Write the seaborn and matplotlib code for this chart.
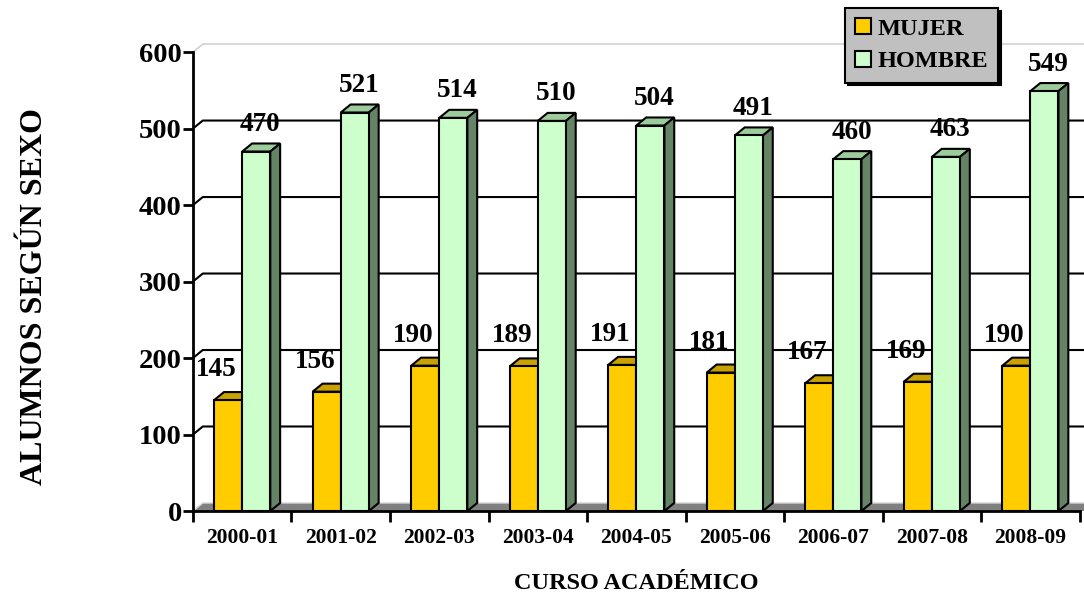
import pandas as pd
import matplotlib.pyplot as plt
from matplotlib.patches import Polygon, Patch
import seaborn as sns

cursos = ['2000-01', '2001-02', '2002-03', '2003-04', '2004-05',
          '2005-06', '2006-07', '2007-08', '2008-09']
mujer = [145, 156, 190, 189, 191, 181, 167, 169, 190]
hombre = [470, 521, 514, 510, 504, 491, 460, 463, 549]
sexos = ['MUJER', 'HOMBRE']
y_ticks = [0, 100, 200, 300, 400, 500, 600]

df = pd.DataFrame({
    'curso': cursos * 2,
    'sexo': ['MUJER'] * len(cursos) + ['HOMBRE'] * len(cursos),
    'alumnos': mujer + hombre,
})

sns.set_theme(style='white')
plt.rcParams['font.family'] = ['Liberation Serif', 'DejaVu Serif']
plt.rcParams['font.weight'] = 'bold'
for k in ['text.color', 'axes.labelcolor', 'xtick.color', 'ytick.color']:
    plt.rcParams[k] = 'black'

front = {'MUJER': '#FFCC00', 'HOMBRE': '#CCFFCC'}
top_c = {'MUJER': '#C9A100', 'HOMBRE': '#9CCB9C'}
side_c = {'MUJER': '#8C7000', 'HOMBRE': '#658465'}

fig = plt.figure(figsize=(10.84, 5.96), dpi=100)
ax = fig.add_axes([0.178, 0.1426, 0.818, 0.770])

sns.barplot(data=df, x='curso', y='alumnos', hue='sexo', hue_order=sexos,
            palette=front, width=0.57, saturation=1, edgecolor='black',
            linewidth=1.5, ax=ax, legend=False)

ax.set_xlim(-0.5, 8.5)
ax.set_ylim(0, 600)

# 3d depth (data units)
dx, dy = 0.10, 10.5
x_left, x_right = -0.5, 8.5

# back wall gridlines + floor
for yt in y_ticks[1:]:
    col = '#C8C8C8' if yt == 600 else 'black'
    lw = 1.0 if yt == 600 else 1.5
    ax.plot([x_left, x_left + dx, x_right + 0.2], [yt, yt + dy, yt + dy],
            color=col, lw=lw, zorder=0.5, clip_on=False)
floor = Polygon([(x_left, 0), (x_right + 0.2, 0), (x_right + 0.2, dy),
                 (x_left + dx, dy)], closed=True, facecolor='#808080',
                edgecolor='none', zorder=0.8, clip_on=False)
ax.add_patch(floor)
ax.plot([x_left, x_left + dx, x_right + 0.2], [0, dy, dy], color='#D8D8D8',
        lw=1.0, zorder=0.9, clip_on=False)

zs = {'MUJER': 2.0, 'HOMBRE': 3.0}
for cont, sexo in zip(ax.containers, sexos):
    for bar in cont:
        bar.set_zorder(zs[sexo] + 0.1)
        x0, w, h = bar.get_x(), bar.get_width(), bar.get_height()
        top = Polygon([(x0, h), (x0 + w, h), (x0 + w + dx, h + dy), (x0 + dx, h + dy)],
                      closed=True, facecolor=top_c[sexo], edgecolor='black',
                      lw=1.5, zorder=zs[sexo], clip_on=False)
        side = Polygon([(x0 + w, 0), (x0 + w + dx, dy), (x0 + w + dx, h + dy), (x0 + w, h)],
                       closed=True, facecolor=side_c[sexo], edgecolor='black',
                       lw=1.5, zorder=zs[sexo], clip_on=False)
        ax.add_patch(top)
        ax.add_patch(side)
        if sexo == 'MUJER':
            ax.annotate(f'{int(h)}', (x0, h), xytext=(1.5, 22), textcoords='offset points',
                        ha='center', va='center', fontsize=19.5, fontweight='bold',
                        zorder=2.5, annotation_clip=False)
        else:
            ax.annotate(f'{int(h)}', (x0 + w / 2, h), xytext=(3, 19.5), textcoords='offset points',
                        ha='center', va='center', fontsize=19.5, fontweight='bold',
                        zorder=3.5, annotation_clip=False)

# axes styling
for s in ['top', 'right']:
    ax.spines[s].set_visible(False)
for s in ['left', 'bottom']:
    ax.spines[s].set_color('black')
    ax.spines[s].set_linewidth(2)
    ax.spines[s].set_zorder(4)

ax.set_yticks(y_ticks)
ax.set_yticklabels([str(v) for v in y_ticks], fontsize=20.5, fontweight='bold')
ax.tick_params(axis='y', direction='out', length=7, width=2, color='black', pad=1, left=True)
ax.set_xticks(range(len(cursos)))
ax.set_xticklabels(cursos, fontsize=15.5, fontweight='bold')
ax.tick_params(axis='x', length=0, pad=12)
ax.set_xticks([i - 0.5 for i in range(len(cursos) + 1)], minor=True)
ax.tick_params(axis='x', which='minor', direction='out', length=8, width=2,
               color='black', bottom=True)
ax.set_xlabel('CURSO ACADÉMICO', fontsize=17.5, fontweight='bold', labelpad=18)
ax.set_ylabel('')
fig.text(0.032, 0.503, 'ALUMNOS SEGÚN SEXO', rotation=90, ha='center', va='center',
         fontsize=23, fontweight='bold')

handles = [Patch(facecolor=front[s], edgecolor='black', lw=1.5, label=s) for s in sexos]
leg = fig.legend(handles=handles, loc='upper left', bbox_to_anchor=(845 / 1084, 1 - 8 / 596),
                 fancybox=False, shadow={'color': 'black', 'alpha': 1},
                 facecolor='#C0C0C0', edgecolor='black', framealpha=1,
                 prop={'size': 17.5, 'weight': 'bold'}, handlelength=0.65, handleheight=0.65,
                 handletextpad=0.25, borderpad=0.42, labelspacing=0.45, borderaxespad=0)
leg.get_frame().set_linewidth(1.5)

fig.savefig('out.png', dpi=100)
